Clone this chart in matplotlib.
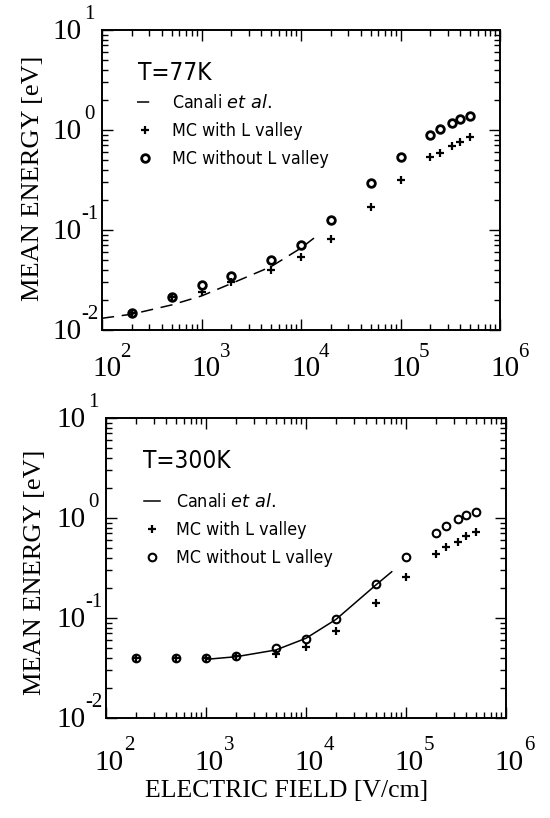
import numpy as np
import matplotlib
matplotlib.use('Agg')
import matplotlib.pyplot as plt
from matplotlib.ticker import LogLocator, NullFormatter

# ---------------- data ----------------
field = [200, 500, 1000, 2000, 5000, 1e4, 2e4, 5e4, 1e5, 2e5, 2.5e5, 3.3e5, 4e5, 5e5]

e77_with_L = [0.0147, 0.0216, 0.0242, 0.0304, 0.040, 0.0533, 0.0819, 0.169,
              0.316, 0.541, 0.593, 0.692, 0.764, 0.845]
e77_without_L = [0.0147, 0.0216, 0.0282, 0.0347, 0.050, 0.0708, 0.126, 0.293,
                 0.533, 0.891, 1.02, 1.17, 1.28, 1.39]
canali77_field = [100, 200, 500, 1000, 2000, 5000, 1e4, 1.35e4]
canali77_energy = [0.0131, 0.0144, 0.0178, 0.0219, 0.0292, 0.043, 0.066, 0.083]

e300_with_L = [0.0395, 0.0395, 0.0395, 0.0417, 0.0437, 0.0509, 0.0747, 0.142,
               0.259, 0.436, 0.517, 0.58, 0.66, 0.73]
e300_without_L = [0.0395, 0.0395, 0.0395, 0.0417, 0.0498, 0.0612, 0.0977, 0.219,
                  0.404, 0.713, 0.832, 0.977, 1.06, 1.16]
canali300_field = [1000, 2000, 5000, 1e4, 2e4, 5e4, 7.2e4]
canali300_energy = [0.0386, 0.041, 0.0479, 0.0627, 0.097, 0.214, 0.29]

x_decades = [2, 3, 4, 5, 6]
y_decades = [-2, -1, 0, 1]
legend_labels = ["Canali $\\mathit{et\\ al.}$", "MC with L valley", "MC without L valley"]
panel_titles = ["T=77K", "T=300K"]
xlabel = "ELECTRIC FIELD [V/cm]"
ylabel = "MEAN ENERGY [eV]"

# ---------------- style ----------------
SERIF = ['Liberation Serif', 'DejaVu Serif']
SANS = ['DejaVu Sans']
PX = 0.72  # points per pixel at 100 dpi

W, H = 550, 818
fig = plt.figure(figsize=(W / 100, H / 100), dpi=100)

ax1 = fig.add_axes([102 / W, 1 - 330 / H, 398 / W, 300 / H])
ax2 = fig.add_axes([106 / W, 1 - 718 / H, 400 / W, 300 / H])


def style_axes(ax):
    ax.set_xscale('log')
    ax.set_yscale('log')
    ax.set_xlim(1e2, 1e6)
    ax.set_ylim(1e-2, 1e1)
    ax.xaxis.set_major_locator(LogLocator(base=10, numticks=10))
    ax.yaxis.set_major_locator(LogLocator(base=10, numticks=10))
    ax.xaxis.set_minor_locator(LogLocator(base=10, subs=np.arange(2, 10), numticks=20))
    ax.yaxis.set_minor_locator(LogLocator(base=10, subs=np.arange(2, 10), numticks=20))
    for axis in (ax.xaxis, ax.yaxis):
        axis.set_major_formatter(NullFormatter())
        axis.set_minor_formatter(NullFormatter())
    ax.tick_params(which='both', direction='in', top=True, right=True,
                   width=1.0, color='black')
    ax.tick_params(which='major', length=8)
    ax.tick_params(which='minor', length=4)
    for sp in ax.spines.values():
        sp.set_linewidth(1.4)


def tick_labels(ax, x_base_dx, x_base_dy, x_exp_dx, x_exp_dy):
    # x axis decade labels: "10" centred under tick, exponent raised to the right
    for d in x_decades:
        ax.annotate("10", xy=(10.0 ** d, 0), xycoords=('data', 'axes fraction'),
                    xytext=(x_base_dx * PX, x_base_dy * PX), textcoords='offset points',
                    ha='center', va='baseline', family=SERIF, fontsize=21,
                    annotation_clip=False)
        ax.annotate("%d" % d, xy=(10.0 ** d, 0), xycoords=('data', 'axes fraction'),
                    xytext=(x_exp_dx * PX, x_exp_dy * PX), textcoords='offset points',
                    ha='left', va='baseline', family=SERIF, fontsize=15,
                    annotation_clip=False)
    # y axis decade labels
    for d in y_decades:
        ax.annotate("10", xy=(0, 10.0 ** d), xycoords=('axes fraction', 'data'),
                    xytext=(-20 * PX, -9 * PX), textcoords='offset points',
                    ha='right', va='baseline', family=SERIF, fontsize=21,
                    annotation_clip=False)
        ax.annotate("%d" % d, xy=(0, 10.0 ** d), xycoords=('axes fraction', 'data'),
                    xytext=((-18 if d >= 0 else -21) * PX, 11 * PX),
                    textcoords='offset points',
                    ha='left', va='baseline', family=SERIF, fontsize=15,
                    annotation_clip=False)


style_axes(ax1)
style_axes(ax2)
tick_labels(ax1, 5, -46, 18, -27)
tick_labels(ax2, 3, -52, 18, -32)

plus_kw = dict(marker='+', ms=6, mew=1.6, color='black', linestyle='none')

# top panel
l1, = ax1.plot(canali77_field, canali77_energy, color='black', lw=1.1,
               dashes=(8, 5))
p1, = ax1.plot(field, e77_with_L, **plus_kw)
c1, = ax1.plot(field, e77_without_L, marker='o', ms=5.5, mew=2.0, mfc='none',
               mec='black', linestyle='none')

# bottom panel
l2, = ax2.plot(canali300_field, canali300_energy, color='black', lw=1.1)
p2, = ax2.plot(field, e300_with_L, **plus_kw)
c2, = ax2.plot(field, e300_without_L, marker='o', ms=5.5, mew=1.5, mfc='none',
               mec='black', linestyle='none')


def make_legend(ax, handles, anchor, textpad):
    leg = ax.legend(handles, legend_labels, loc='center left',
                    bbox_to_anchor=anchor, frameon=False, borderpad=0,
                    borderaxespad=0, handlelength=0.9, handletextpad=textpad,
                    labelspacing=0.55,
                    prop=dict(family=SANS, stretch='condensed', size=12.8))
    return leg


make_legend(ax1, [l1, p1, c1], (0.088, (330 - 131) / 300), 1.07)
make_legend(ax2, [l2, p2, c2], (0.095, (718 - 530) / 300), 0.9)

# panel titles
fig.text(138 / W, 1 - 72.5 / H, panel_titles[0], ha='left', va='center',
         family=SANS, stretch='condensed', fontsize=17.5)
fig.text(143 / W, 1 - 461 / H, panel_titles[1], ha='left', va='center',
         family=SANS, stretch='condensed', fontsize=17.5)

# axis labels
fig.text(33 / W, 1 - 178 / H, ylabel, rotation=90, ha='center', va='center',
         family=SERIF, fontsize=19)
fig.text(35 / W, 1 - 572 / H, ylabel, rotation=90, ha='center', va='center',
         family=SERIF, fontsize=19)
fig.text(287 / W, 1 - 791 / H, xlabel, ha='center', va='center',
         family=SERIF, fontsize=18.5)

fig.savefig('out.png', dpi=100, facecolor='white')
